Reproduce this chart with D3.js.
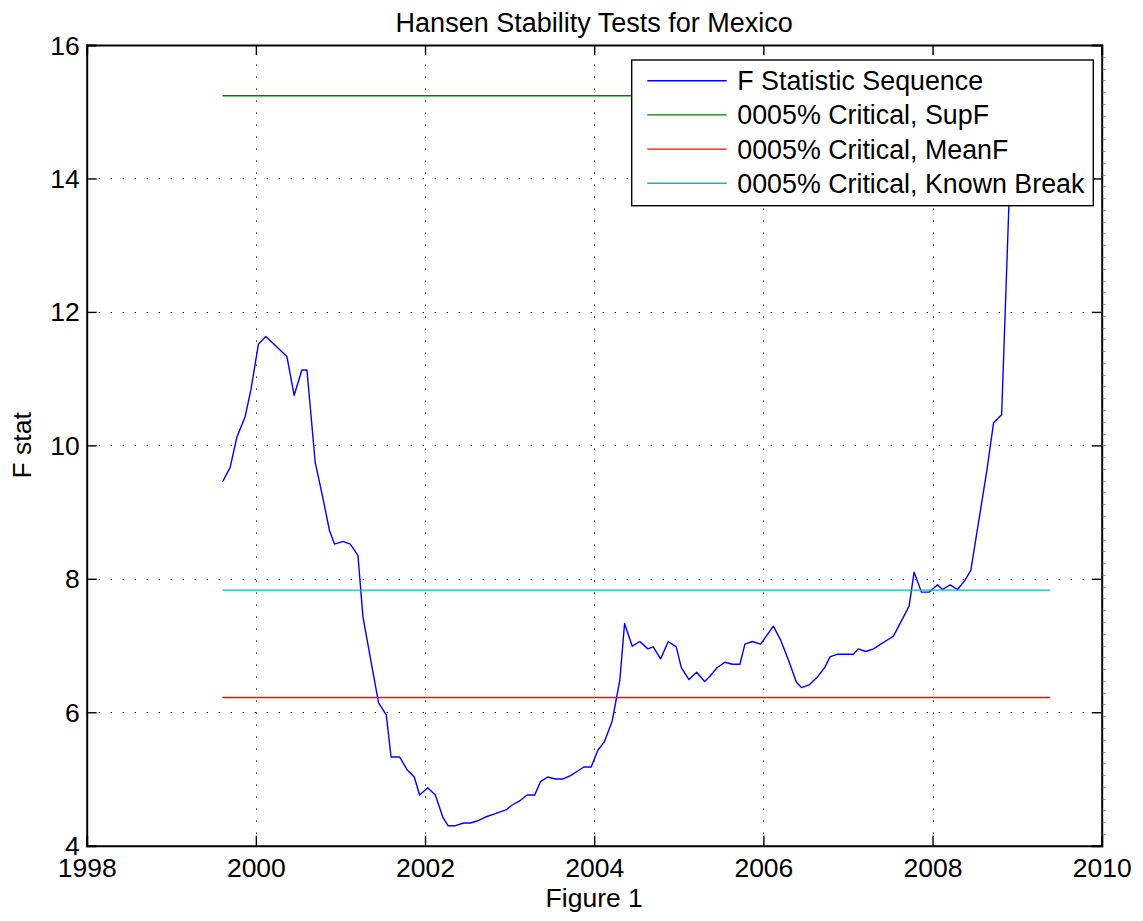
<!DOCTYPE html>
<html><head><meta charset="utf-8">
<script src="https://cdn.jsdelivr.net/npm/d3@7"></script>
<style>
body{margin:0;background:#fff}
svg{display:block}
text{font-family:"Liberation Sans",Arial,Helvetica,sans-serif;fill:#000}
</style>
</head><body>
<svg id="chart" width="1143" height="921"></svg>
<script>
// ---- data ----
const fDates = [1999.605,1999.696,1999.775,1999.873,1999.941,2000.031,2000.118,2000.367,2000.453,2000.544,
  2000.604,2000.702,2000.781,2000.871,2000.930,2001.030,2001.116,2001.207,2001.266,2001.373,
  2001.451,2001.542,2001.598,2001.699,2001.787,2001.873,2001.936,2002.031,2002.122,2002.213,
  2002.272,2002.359,2002.457,2002.536,2002.615,2002.714,2002.832,2002.962,2003.030,2003.128,
  2003.207,2003.297,2003.365,2003.451,2003.542,2003.633,2003.720,2003.806,2003.877,2003.964,
  2004.043,2004.122,2004.213,2004.303,2004.359,2004.450,2004.540,2004.634,2004.698,2004.785,
  2004.876,2004.970,2005.030,2005.120,2005.211,2005.306,2005.368,2005.456,2005.546,2005.633,
  2005.723,2005.782,2005.870,2005.968,2006.118,2006.205,2006.303,2006.391,2006.450,2006.540,
  2006.639,2006.726,2006.788,2006.876,2006.974,2007.065,2007.120,2007.211,2007.302,2007.388,
  2007.475,2007.538,2007.723,2007.782,2007.870,2007.960,2008.059,2008.118,2008.208,2008.296,
  2008.385,2008.453,2008.642,2008.722,2008.817,2008.907,2008.944];
const fValues = [9.45,9.67,10.12,10.43,10.83,11.52,11.63,11.33,10.75,11.13,
  11.13,9.74,9.28,8.72,8.52,8.56,8.52,8.35,7.43,6.68,
  6.14,5.96,5.33,5.33,5.14,5.03,4.76,4.87,4.76,4.42,
  4.30,4.30,4.34,4.34,4.37,4.43,4.48,4.54,4.61,4.68,
  4.76,4.76,4.96,5.03,5.00,5.00,5.05,5.12,5.18,5.18,
  5.43,5.56,5.87,6.48,7.33,6.99,7.06,6.95,6.98,6.80,
  7.06,6.98,6.67,6.49,6.60,6.46,6.54,6.67,6.75,6.72,
  6.72,7.02,7.06,7.02,7.29,7.08,6.76,6.45,6.37,6.41,
  6.53,6.67,6.83,6.87,6.87,6.87,6.95,6.91,6.95,7.02,
  7.09,7.14,7.59,8.10,7.80,7.80,7.91,7.84,7.91,7.84,
  7.98,8.13,9.62,10.34,10.46,13.75,15.0];
const seriesLabels = ["F Statistic Sequence","0005% Critical, SupF","0005% Critical, MeanF","0005% Critical, Known Break"];
const critValues = [15.24, 6.22, 7.83];           // SupF, MeanF, Known Break
const critRange = [1999.605, 2009.39];
const xTicks = [1998,2000,2002,2004,2006,2008,2010];
const yTicks = [4,6,8,10,12,14,16];
const colors = ["#0000ff","#008000","#ff0000","#00bfbf"];

// ---- layout ----
const L = 86.7, R = 1101.7, T = 45, B = 845.7;
const FS = 26.5;
const svg = d3.select("#chart");
const x = d3.scaleLinear().domain([1998, 2010]).range([L, R]);
const y = d3.scaleLinear().domain([4, 16]).range([B, T]);

svg.append("defs").append("clipPath").attr("id","clip")
  .append("rect").attr("x",L).attr("y",T).attr("width",R-L).attr("height",B-T);

// grid (dotted)
const grid = svg.append("g").attr("stroke","#000").attr("stroke-width",1).attr("stroke-dasharray","1.2,10.8");
grid.selectAll(".vg").data(xTicks.filter(d=>d>1998&&d<2010)).join("line")
  .attr("x1",d=>Math.round(x(d))+0.5).attr("x2",d=>Math.round(x(d))+0.5).attr("y1",B).attr("y2",T);
grid.selectAll(".hg").data(yTicks.filter(d=>d>4&&d<16)).join("line")
  .attr("y1",d=>Math.round(y(d))+0.5).attr("y2",d=>Math.round(y(d))+0.5).attr("x1",L).attr("x2",R);

// data lines
const plot = svg.append("g").attr("clip-path","url(#clip)");
const line = d3.line().x((d,i)=>x(fDates[i])).y(d=>y(d));
plot.append("path").datum(fValues).attr("d",line)
  .attr("fill","none").attr("stroke",colors[0]).attr("stroke-width",1.4).attr("stroke-linejoin","round");
plot.selectAll(".crit").data(critValues).join("line")
  .attr("x1",x(critRange[0])).attr("x2",x(critRange[1]))
  .attr("y1",d=>y(d)).attr("y2",d=>y(d))
  .attr("stroke",(d,i)=>colors[i+1]).attr("stroke-width",1.4);

// axes (ticks inward, box)
const tickLen = 10;
const xAxB = d3.axisBottom(x).tickValues(xTicks).tickFormat(d3.format("d")).tickSize(-tickLen).tickPadding(tickLen+10);
const gxb = svg.append("g").attr("transform",`translate(0,${B})`).call(xAxB);
const xAxT = d3.axisTop(x).tickValues(xTicks).tickFormat("").tickSize(-tickLen);
const gxt = svg.append("g").attr("transform",`translate(0,${T})`).call(xAxT);
const yAxL = d3.axisLeft(y).tickValues(yTicks).tickFormat(d3.format("d")).tickSize(-tickLen).tickPadding(7);
const gyl = svg.append("g").attr("transform",`translate(${L},0)`).call(yAxL);
const yAxR = d3.axisRight(y).tickValues(yTicks).tickFormat("").tickSize(-tickLen);
const gyr = svg.append("g").attr("transform",`translate(${R},0)`).call(yAxR);
[gxb,gxt,gyl,gyr].forEach(g=>{
  g.select(".domain").attr("stroke","#000").attr("stroke-width",2);
  g.selectAll(".tick line").attr("stroke","#000").attr("stroke-width",1.4);
  g.selectAll("text").attr("font-size",FS).attr("font-family","Liberation Sans, Arial, sans-serif").attr("fill","#000");
});
gxb.selectAll(".tick text").attr("dy","0.71em").attr("y",12.5);
gyl.selectAll(".tick text").attr("dy","0.34em");
gxb.selectAll(".tick").filter(d=>d===1998||d===2010).select("line").remove();
gxt.selectAll(".tick").filter(d=>d===1998||d===2010).select("line").remove();
gyl.selectAll(".tick").filter(d=>d===4||d===16).select("line").remove();
gyr.selectAll(".tick").filter(d=>d===4||d===16).select("line").remove();

// faint minor ticks on the outer right edge (as in the reference)
const minorScale = d3.scaleLinear().domain([0, 68]).range([B, T]);
svg.append("g").selectAll("line").data(d3.range(1, 68)).join("line")
  .attr("x1",R+1).attr("x2",R+4).attr("y1",d=>Math.round(minorScale(d))+0.5).attr("y2",d=>Math.round(minorScale(d))+0.5)
  .attr("stroke","#999").attr("stroke-width",1);

// title & labels
svg.append("text").attr("x",(L+R)/2).attr("y",31.5).attr("text-anchor","middle")
  .attr("font-size",27).text("Hansen Stability Tests for Mexico");
svg.append("text").attr("x",(L+R)/2).attr("y",907).attr("text-anchor","middle")
  .attr("font-size",FS).text("Figure 1");
svg.append("text").attr("transform",`translate(31,${(T+B)/2}) rotate(-90)`).attr("text-anchor","middle")
  .attr("font-size",FS).text("F stat");

// legend
const lg = svg.append("g");
lg.append("rect").attr("x",631.7).attr("y",60).attr("width",461.6).attr("height",145.7)
  .attr("fill","#fff").attr("stroke","#000").attr("stroke-width",1.4);
const rowY = d3.scalePoint().domain(seriesLabels).range([80.7,183.3]);
const rows = lg.selectAll(".row").data(seriesLabels).join("g").attr("transform",d=>`translate(0,${rowY(d)})`);
rows.append("line").attr("x1",647.3).attr("x2",726.7).attr("y1",0).attr("y2",0)
  .attr("stroke",(d,i)=>colors[i]).attr("stroke-width",1.4);
rows.append("text").attr("x",737.3).attr("y",9.5).attr("font-size",26.8).text(d=>d);
</script>
</body></html>
